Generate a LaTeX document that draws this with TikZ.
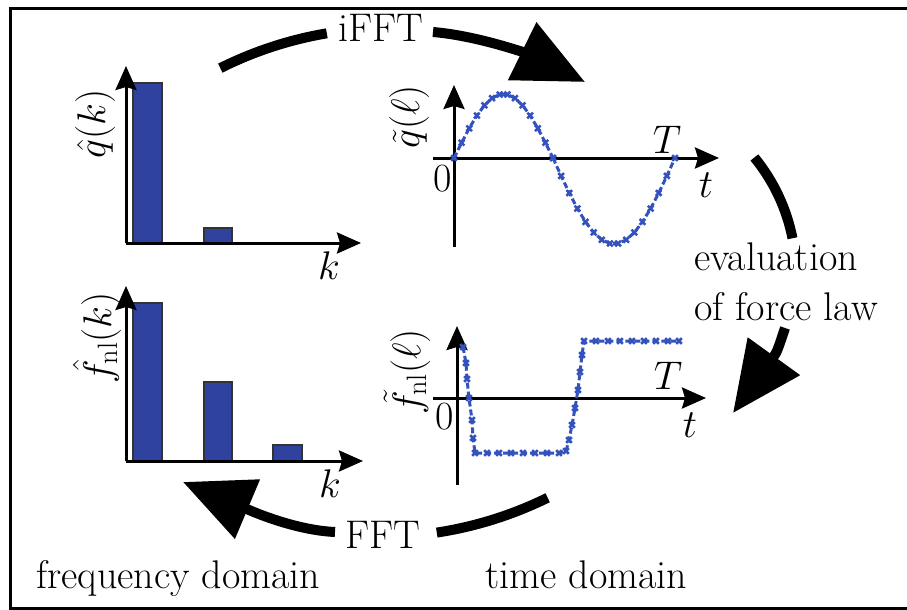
\RequirePackage{fix-cm}
\documentclass[tikz,border=0pt]{standalone}
\usepackage{fontspec}
\usetikzlibrary{arrows.meta}
\definecolor{barblue}{RGB}{46,66,158}
\definecolor{plotblue}{RGB}{52,82,190}
\tikzset{
  axis/.style={line width=3pt,-{Stealth[length=24pt,width=21pt,inset=3pt]}},
  bar/.style={fill=barblue,draw=black!80,line width=1.5pt},
  bigarrow/.style={line width=10pt,-{Triangle[length=70pt,width=62pt]}},
  bigline/.style={line width=10pt},
  sig/.style={plotblue,line width=3pt,dash pattern=on 6pt off 3pt,mark=x,mark size=4pt,mark options={solid,line width=2.5pt}},
  txt/.style={inner sep=0pt,font=\fontsize{40}{48}\selectfont},
}
\begin{document}
\begin{tikzpicture}[x=1pt,y=-1pt]
\useasboundingbox (0,0) rectangle (907,610);
\clip (0,0) rectangle (907,610);
\draw[line width=3pt] (960,8.5) -- (10.5,8.5) -- (10.5,608.5) -- (960,608.5);

% ---------- top-left spectrum
\coordinate (o1) at (126,243);
\draw[bar] (133,243) rectangle (162,83);
\draw[bar] (204,243) rectangle (232,228);
\draw[axis] (o1) -- (126,66) coordinate (y1);
\draw[axis] (o1) -- (361,243) coordinate (x1);
\node[txt] (k1) at (329,266) {$k$};
\node[txt,rotate=90] (q1) at (95,124) {$\hat{q}(k)$};

% ---------- bottom-left spectrum
\coordinate (o2) at (126,461);
\draw[bar] (133,461) rectangle (162,303);
\draw[bar] (204,461) rectangle (232,382);
\draw[bar] (273,461) rectangle (302,445);
\draw[axis] (o2) -- (126,286) coordinate (y2);
\draw[axis] (o2) -- (363,461) coordinate (x2);
\node[txt] (k2) at (330,484) {$k$};
\node[txt,rotate=90] (f2) at (97,338) {$\hat{f}_{\mathrm{nl}}(k)$};

% ---------- top-right time signal
\coordinate (o3) at (454,158);
\draw[axis] (454,247) -- (454,85) coordinate (y3);
\draw[axis] (433,158) -- (719,158) coordinate (x3);
\draw[sig] plot[domain=0:180,samples=14] ({454+0.55*\x},{158-64*sin(\x)});
\draw[sig] plot[domain=0:180,samples=16] ({553+0.6778*\x},{158+86*sin(\x)});
\node[txt] (T3) at (667,140) {$T$};
\node[txt] (t3) at (706,185) {$t$};
\node[txt] (z3) at (443,179) {0};
\node[txt,rotate=90] (q3) at (409,117) {$\tilde{q}(\ell)$};

% ---------- bottom-right time signal
\coordinate (o4) at (457,398);
\draw[axis] (457,485) -- (457,326) coordinate (y4);
\draw[axis] (433,398) -- (706,398) coordinate (x4);
\draw[sig] plot coordinates {(463,347) (466,363) (467,379) (469,398) (472,420) (473,438) (475,453)
  (487,453) (499,453) (511,453) (523,453) (535,453) (547,453) (559,453) (566,451)
  (569,440) (572,425) (575,408) (578,390) (580,372) (582,355) (584,341)
  (596,341) (608,341) (620,341) (632,341) (644,341) (656,341) (668,341) (679,341)};
\node[txt] (T4) at (668,376) {$T$};
\node[txt] (t4) at (690,425) {$t$};
\node[txt] (z4) at (445,417) {0};
\node[txt,rotate=90] (f4) at (407,372) {$\tilde{f}_{\mathrm{nl}}(\ell)$};

% ---------- cycle arrows
\node[txt,anchor=base] (ifft) at (381,42) {iFFT};
\coordinate (cTop) at (390,407);
\coordinate (aTop) at (433,32);
\coordinate (tipTop) at (585,82);
\draw[bigline] (cTop) ++(-116.6:379) arc[start angle=-116.6,end angle=-99.6,radius=379];
\draw[bigarrow] (aTop) .. controls (480,36) and (530,55) .. (tipTop);

\node[txt,anchor=base west] (ev1) at (694,270) {evaluation};
\node[txt,anchor=base west] (ev2) at (694,320) {of force law};
\coordinate (cRight) at (612,274);
\coordinate (aRight) at (785,328);
\coordinate (tipRight) at (733,413);
\draw[bigline] (cRight) ++(-39.3:184) arc[start angle=-39.3,end angle=-11.2,radius=184];
\draw[bigarrow] (aRight) .. controls (777,352) .. (tipRight);

\node[txt,anchor=base] (fft) at (383,548) {FFT};
\coordinate (cBot) at (379,155);
\coordinate (aBot) at (335,532);
\coordinate (tipBot) at (183,482);
\draw[bigline] (cBot) ++(63.8:382) arc[start angle=63.8,end angle=81.3,radius=382];
\draw[bigarrow] (aBot) .. controls (290,530) and (240,506) .. (tipBot);

\node[txt,anchor=base west] (fd) at (36,588) {frequency domain};
\node[txt,anchor=base west] (td) at (485,588) {time domain};
\end{tikzpicture}
\end{document}
